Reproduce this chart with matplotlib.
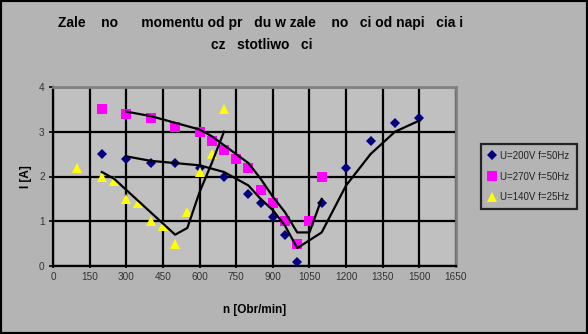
import matplotlib
matplotlib.use("Agg")
import matplotlib.pyplot as plt
import numpy as np
import pandas as pd
from matplotlib.patches import Rectangle

# Series: U=200V f=50Hz
n_200 = [200, 300, 400, 500, 600, 700, 800, 850, 900, 950, 1000, 1100, 1200, 1300, 1400, 1500]
i_200 = [2.5, 2.4, 2.3, 2.3, 2.2, 2.0, 1.6, 1.4, 1.1, 0.7, 0.1, 1.4, 2.2, 2.8, 3.2, 3.3]
# Series: U=270V f=50Hz
n_270 = [200, 300, 400, 500, 600, 650, 700, 750, 800, 850, 900, 950, 1000, 1050, 1100]
i_270 = [3.5, 3.4, 3.3, 3.1, 3.0, 2.8, 2.6, 2.4, 2.2, 1.7, 1.4, 1.0, 0.5, 1.0, 2.0]
# Series: U=140V f=25Hz
n_140 = [100, 200, 250, 300, 350, 400, 450, 500, 550, 600, 650, 700]
i_140 = [2.2, 2.0, 1.9, 1.5, 1.4, 1.0, 0.9, 0.5, 1.2, 2.1, 2.5, 3.5]

labels = ["U=200V f=50Hz", "U=270V f=50Hz", "U=140V f=25Hz"]
x_ticks = [0, 150, 300, 450, 600, 750, 900, 1050, 1200, 1350, 1500, 1650]
y_ticks = [0, 1, 2, 3, 4]

FIG_BG = "#b4b4b4"
PLOT_BG = "#c0c0c0"

fig = plt.figure(figsize=(5.88, 3.34), dpi=100, facecolor=FIG_BG)
plt.rcParams['font.family'] = ['Liberation Sans', 'DejaVu Sans']
W, H = 588, 334
ax = fig.add_axes([53 / W, (H - 266) / H, (456 - 53) / W, (266 - 87) / H])
ax.set_facecolor(PLOT_BG)

series = [
    (n_200, i_200, "D", "#000080", 5),
    (n_270, i_270, "s", "#ff00ff", 6.5),
    (n_140, i_140, "^", "#ffff00", 7),
]
handles = []
for (xs, ys, mk, col, ms), lab in zip(series, labels):
    h, = ax.plot(xs, ys, linestyle="none", marker=mk, color=col, markersize=ms,
                 markeredgewidth=0, label=lab, zorder=3)
    handles.append(h)

# moving-average (period 2) trendlines
for (xs, ys, mk, col, ms) in series:
    ma = pd.Series(ys).rolling(2).mean().to_numpy()
    ax.plot(xs[1:], ma[1:], color="black", lw=1.6, zorder=4)

ax.set_xlim(0, 1650)
ax.set_ylim(0, 4)
ax.set_xticks(x_ticks)
ax.set_yticks(y_ticks)
ax.grid(True, color="black", lw=1.6, zorder=1)
ax.set_axisbelow(True)
ax.tick_params(axis="both", labelsize=7.2, labelcolor="#333333", color="black",
               width=1.2, length=3, direction="inout", pad=3)
ax.tick_params(axis="y", direction="out", length=3)

for s in ["top", "right"]:
    ax.spines[s].set_color("#808080")
    ax.spines[s].set_linewidth(2)
for s in ["left", "bottom"]:
    ax.spines[s].set_color("black")
    ax.spines[s].set_linewidth(1.6)

ax.set_xlabel("n [Obr/min]", fontsize=8.5, fontweight="bold", labelpad=16)
ax.set_ylabel("I [A]", fontsize=8.5, fontweight="bold", labelpad=5)

fig.text(261 / W, 1 - 23 / H, "Zale    no      momentu od pr   du w zale    no   ci od napi   cia i",
         ha="center", va="center", fontsize=10, fontweight="bold")
fig.text(262 / W, 1 - 45 / H, "cz   stotliwo   ci",
         ha="center", va="center", fontsize=10, fontweight="bold")

leg = fig.legend(handles=handles, labels=labels, loc="upper left",
                 bbox_to_anchor=(481 / W, 1 - 144 / H), fontsize=7,
                 frameon=True, fancybox=False, facecolor=FIG_BG, edgecolor="black",
                 handlelength=0.8, handletextpad=0.5, borderpad=0.7, labelspacing=1.1,
                 borderaxespad=0)
leg.get_frame().set_linewidth(1.6)
for t in leg.get_texts():
    t.set_color("#222222")

fig.patches.append(Rectangle((0, 0), 1, 1, transform=fig.transFigure, fill=False,
                             edgecolor="black", lw=3, zorder=10))

fig.savefig("out.png", dpi=100, facecolor=FIG_BG)
